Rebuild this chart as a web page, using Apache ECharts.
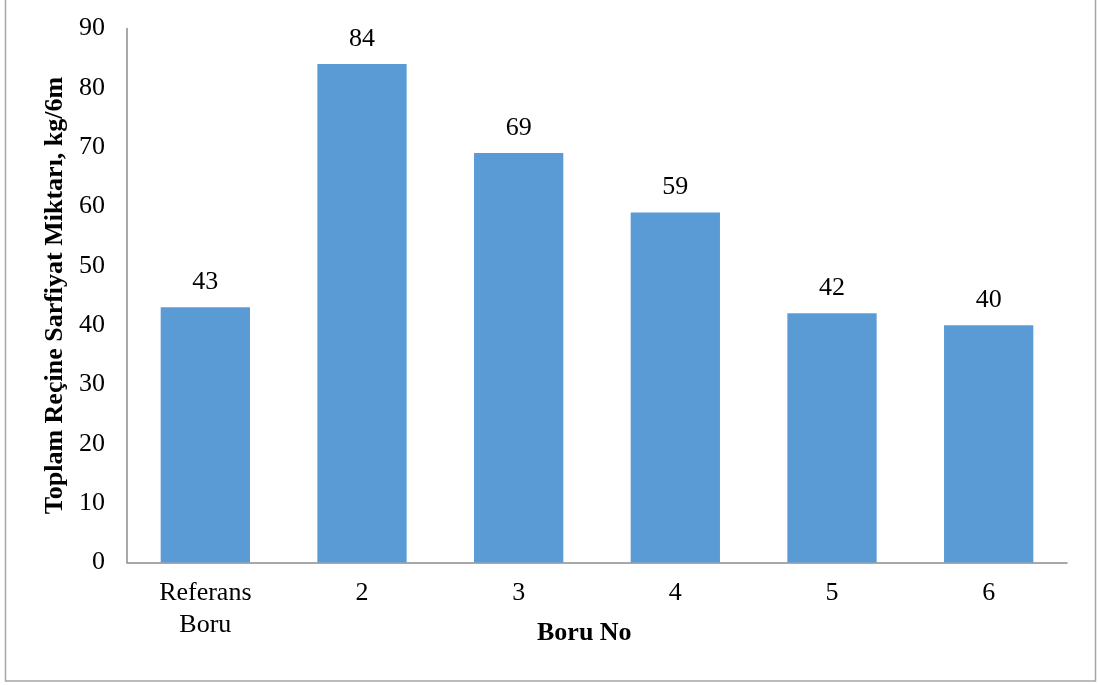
<!DOCTYPE html>
<html>
<head>
<meta charset="utf-8">
<script src="https://cdn.jsdelivr.net/npm/echarts@6/dist/echarts.min.js"></script>
<style>
html,body{margin:0;padding:0;background:#fff;}
#c{width:1098px;height:685px;}
</style>
</head>
<body>
<div id="c"></div>
<script>
const categories = ['Referans\nBoru', '2', '3', '4', '5', '6'];
const values = [43, 84, 69, 59, 42, 40];
const yTicks = { min: 0, max: 90, interval: 10 };
const xTitle = 'Boru No';
const yTitle = 'Toplam Reçine Sarfiyat Miktarı, kg/6m';

const FONT = '"Liberation Serif", "Times New Roman", serif';
const chart = echarts.init(document.getElementById('c'), null, { renderer: 'canvas' });
chart.setOption({
  animation: false,
  backgroundColor: '#fff',
  graphic: [{
    type: 'rect',
    shape: { x: 5.5, y: -5, width: 1090, height: 686 },
    style: { fill: 'none', stroke: '#a6a6a6', lineWidth: 1.5 },
    silent: true
  }, {
    type: 'text',
    left: 597 - 60, top: 620,
    style: { text: xTitle, font: 'bold 26px ' + FONT, fill: '#000', width: 120, align: 'center' }
  }],
  grid: { left: 127, right: 31, top: 28.5, bottom: 122.5, containLabel: false },
  xAxis: {
    type: 'category',
    data: categories,
    axisLine: { lineStyle: { color: '#8c8c8c', width: 1.5 } },
    axisTick: { show: false },
    axisLabel: { color: '#000', fontFamily: FONT, fontSize: 26, margin: 15, lineHeight: 32, interval: 0 }
  },
  yAxis: {
    type: 'value',
    min: yTicks.min, max: yTicks.max, interval: yTicks.interval,
    name: yTitle,
    nameLocation: 'middle',
    nameGap: 57,
    nameRotate: 90,
    nameTextStyle: { color: '#000', fontFamily: FONT, fontSize: 26, fontWeight: 'bold' },
    axisLine: { show: true, lineStyle: { color: '#8c8c8c', width: 1.5 } },
    axisTick: { show: false },
    splitLine: { show: false },
    axisLabel: { color: '#000', fontFamily: FONT, fontSize: 26, margin: 22 }
  },
  series: [{
    type: 'bar',
    data: values,
    barWidth: '57%',
    itemStyle: { color: '#5b9bd5' },
    label: { show: true, position: 'top', distance: 12, color: '#000', fontFamily: FONT, fontSize: 26 }
  }]
});
</script>
</body>
</html>
